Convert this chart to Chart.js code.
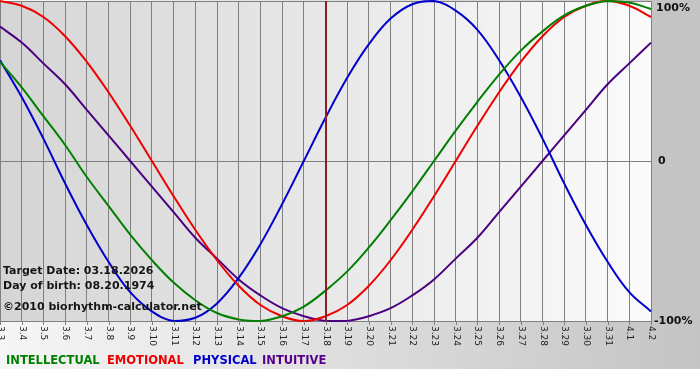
<!DOCTYPE html>
<html>
<head>
<meta charset="utf-8">
<script src="https://cdn.jsdelivr.net/npm/chart.js@4/dist/chart.umd.min.js"></script>
<style>
  body { margin: 0; background: #fff; }
  #wrap { width: 700px; height: 380px; }
</style>
</head>
<body>
<div id="wrap"><canvas id="bioChart" width="700" height="380"></canvas></div>
<script>
const days = ['3.3','3.4','3.5','3.6','3.7','3.8','3.9','3.10','3.11','3.12','3.13','3.14','3.15','3.16','3.17','3.18',
  '3.19','3.20','3.21','3.22','3.23','3.24','3.25','3.26','3.27','3.28','3.29','3.30','3.31','4.1','4.2'];
const intellectual = [0.62, 0.46, 0.28, 0.10, -0.10, -0.28, -0.46, -0.62, -0.76, -0.87, -0.95, -0.99, -1.00, -0.97, -0.91, -0.81,
  -0.69, -0.54, -0.37, -0.19, 0, 0.19, 0.37, 0.54, 0.69, 0.81, 0.91, 0.97, 1.00, 0.99, 0.95];
const emotional = [1, 0.97, 0.90, 0.78, 0.62, 0.43, 0.22, 0, -0.22, -0.43, -0.62, -0.78, -0.90, -0.97, -1, -0.97,
  -0.90, -0.78, -0.62, -0.43, -0.22, 0, 0.22, 0.43, 0.62, 0.78, 0.90, 0.97, 1, 0.97, 0.90];
const physical = [0.63, 0.40, 0.14, -0.14, -0.40, -0.63, -0.82, -0.94, -1.00, -0.98, -0.89, -0.73, -0.52, -0.27, 0, 0.27,
  0.52, 0.73, 0.89, 0.98, 1.00, 0.94, 0.82, 0.63, 0.40, 0.14, -0.14, -0.40, -0.63, -0.82, -0.94];
const intuitive = [0.84, 0.74, 0.61, 0.48, 0.32, 0.16, 0, -0.16, -0.32, -0.48, -0.61, -0.74, -0.84, -0.92, -0.97, -1.00,
  -1.00, -0.97, -0.92, -0.84, -0.74, -0.61, -0.48, -0.32, -0.16, 0, 0.16, 0.32, 0.48, 0.61, 0.74];
const yLabels = [[1, '100%'], [0, '0'], [-1, '-100%']];
const targetDay = '3.18';
const infoLines = ['Target Date: 03.18.2026', 'Day of birth: 08.20.1974', '\u00a92010 biorhythm-calculator.net'];
const legendNames = ['INTELLECTUAL', 'EMOTIONAL', 'PHYSICAL', 'INTUITIVE'];
const legendColors = ['#008000', '#ee0000', '#0000cc', '#55008a'];

const FONT = '"DejaVu Sans", Verdana, sans-serif';
const legendX = [6, 107, 193, 262];

// backgrounds, marker line, labels drawn around the chart area
const decor = {
    id: 'decor',
    beforeDraw(chart) {
        const { ctx, chartArea: a } = chart;
        ctx.save();
        let g = ctx.createLinearGradient(0, 0, 700, 0);
        g.addColorStop(0, '#f6f6f6');
        g.addColorStop(1, '#c4c4c4');
        ctx.fillStyle = g;
        ctx.fillRect(0, 0, 700, 369);
        ctx.fillStyle = '#c4c4c4';
        ctx.fillRect(a.right, 0, 700 - a.right, a.bottom + 1);
        g = ctx.createLinearGradient(a.left, 0, a.right, 0);
        g.addColorStop(0, '#d5d5d5');
        g.addColorStop(1, '#fbfbfb');
        ctx.fillStyle = g;
        ctx.fillRect(a.left, a.top, a.right - a.left, a.bottom - a.top);
        ctx.restore();
    },
    afterDatasetsDraw(chart) {
        const { ctx, chartArea: a, scales: { x, y } } = chart;
        ctx.save();
        // target date marker
        const tx = Math.round(x.getPixelForValue(days.indexOf(targetDay)));
        ctx.strokeStyle = '#8b2222';
        ctx.lineWidth = 2;
        ctx.beginPath();
        ctx.moveTo(tx, a.top);
        ctx.lineTo(tx, a.bottom);
        ctx.stroke();

        // tick marks and rotated day labels
        ctx.strokeStyle = '#808080';
        ctx.lineWidth = 1;
        ctx.fillStyle = '#222';
        ctx.font = '9px ' + FONT;
        days.forEach((d, i) => {
            const px = Math.round(x.getPixelForValue(i)) + 0.5;
            ctx.beginPath();
            ctx.moveTo(px, a.bottom);
            ctx.lineTo(px, a.bottom + 4);
            ctx.stroke();
            ctx.save();
            ctx.translate(px, a.bottom + 5);
            ctx.rotate(Math.PI / 2);
            ctx.textAlign = 'left';
            ctx.textBaseline = 'middle';
            ctx.fillText(d, 0, 0);
            ctx.restore();
        });

        // right side percentages
        ctx.font = 'bold 11px ' + FONT;
        ctx.fillStyle = '#111';
        ctx.textBaseline = 'middle';
        ctx.textAlign = 'left';
        yLabels.forEach(([v, t]) => {
            let py = y.getPixelForValue(v);
            if (v === 1) py += 7;
            const px = v === 0 ? a.right + 7 : (v === 1 ? a.right + 5 : a.right + 3);
            ctx.fillText(t, px, py);
        });

        // info text
        ctx.fillStyle = '#151515';
        ctx.fillText(infoLines[0], 3, 271);
        ctx.fillText(infoLines[1], 3, 286);
        ctx.fillText(infoLines[2], 3, 307);

        // legend
        ctx.font = 'bold 11.5px ' + FONT;
        legendNames.forEach((t, i) => {
            ctx.fillStyle = legendColors[i];
            ctx.fillText(t, legendX[i], 361);
        });
        ctx.restore();
    }
};

new Chart(document.getElementById('bioChart'), {
    type: 'line',
    data: {
        labels: days,
        datasets: [
            { label: 'Intellectual', data: intellectual, borderColor: '#008000' },
            { label: 'Emotional', data: emotional, borderColor: '#ee0000' },
            { label: 'Physical', data: physical, borderColor: '#0000cc' },
            { label: 'Intuitive', data: intuitive, borderColor: '#4b0082' }
        ].map(ds => Object.assign(ds, { borderWidth: 2, pointRadius: 0, tension: 0.4, fill: false, clip: 2 }))
    },
    options: {
        responsive: false,
        animation: false,
        events: [],
        layout: { padding: { left: 0, right: 49, top: 1, bottom: 59 } },
        plugins: { legend: { display: false }, tooltip: { enabled: false } },
        scales: {
            x: {
                ticks: { display: false, autoSkip: false },
                grid: { color: '#808080', drawTicks: false },
                border: { display: false },
                afterFit(s) { s.height = 0; }
            },
            y: {
                min: -1, max: 1,
                ticks: { display: false, stepSize: 1 },
                grid: { color: '#808080', drawTicks: false },
                border: { display: false },
                afterFit(s) { s.width = 0; }
            }
        }
    },
    plugins: [decor]
});
</script>
</body>
</html>
